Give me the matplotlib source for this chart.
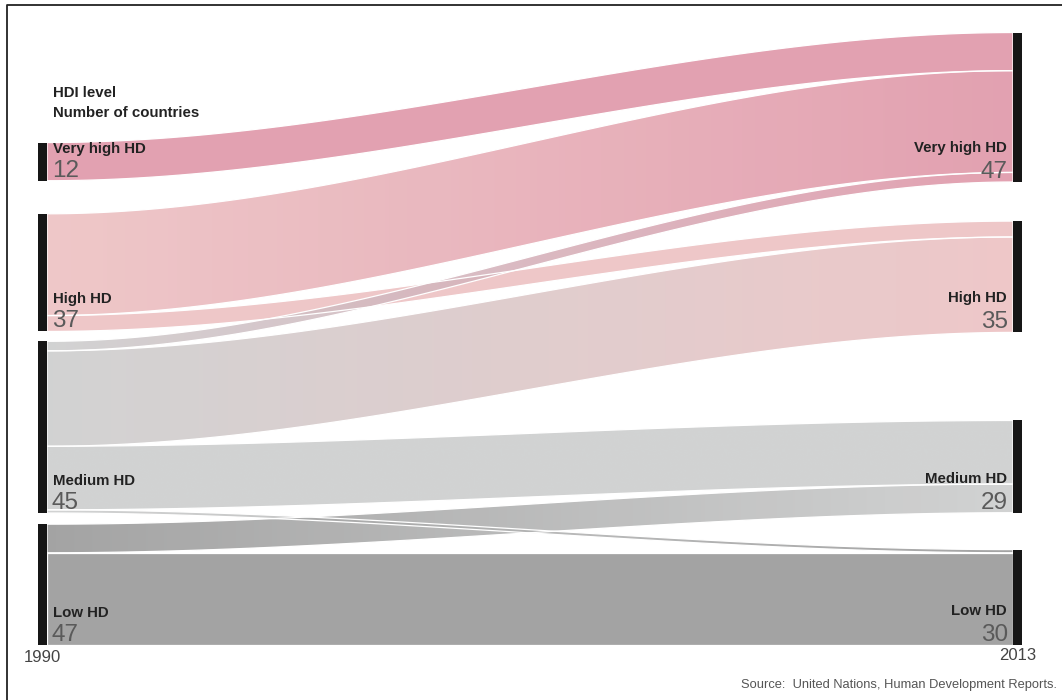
import numpy as np
import matplotlib
matplotlib.use("Agg")
import matplotlib.pyplot as plt
from matplotlib.patches import Polygon
from matplotlib.lines import Line2D
from matplotlib.colors import to_rgb

# ---------------- data ----------------
levels = ["Very high HD", "High HD", "Medium HD", "Low HD"]
counts_1990 = [12, 37, 45, 47]
counts_2013 = [47, 35, 29, 30]
year_labels = ["1990", "2013"]
flow_src = [0, 1, 1, 2, 2, 2, 2, 3, 3]
flow_dst = [0, 0, 1, 0, 1, 2, 3, 2, 3]
flow_val = [12, 32, 5, 3, 30, 20, 1, 9, 29]
title_lines = ["HDI level", "Number of countries"]
source_text = "Source:  United Nations, Human Development Reports."

# ---------------- style / layout ----------------
level_colors = ["#e3a1b1", "#efc8c9", "#d2d3d3", "#a4a4a4"]
gaps_left = [10.4, 3.1, 3.5]     # gaps between nodes (top to bottom), in country units
gaps_right = [12.3, 27.7, 11.6]
X0, X1 = 1990, 2013
PX_Y = 3.18           # pixels per country
PX_X = 966 / 23       # pixels per year
ALPHA = 0.88

FIG_W, FIG_H = 1062, 700
fig = plt.figure(figsize=(FIG_W / 100, FIG_H / 100), dpi=100)
ax = fig.add_axes([0, 0, 1, 1])
ax.axis("off")

regular = ["Liberation Sans", "DejaVu Sans"]

n = len(levels)
left_tot = [sum(v for s, v in zip(flow_src, flow_val) if s == i) for i in range(n)]
right_tot = [sum(v for d, v in zip(flow_dst, flow_val) if d == i) for i in range(n)]


def node_bottoms(tots, gaps):
    bottoms = [0.0] * n
    y = 0.0
    for i in range(n - 1, -1, -1):
        bottoms[i] = y
        y += tots[i]
        if i > 0:
            y += gaps[i - 1]
    return bottoms


lb = node_bottoms(left_tot, gaps_left)
rb = node_bottoms(right_tot, gaps_right)

# flow slot positions
left_cursor = [lb[i] + left_tot[i] for i in range(n)]   # tops
right_cursor = [rb[i] + right_tot[i] for i in range(n)]
order_left = sorted(range(len(flow_val)), key=lambda k: (flow_src[k], flow_dst[k]))
slots = {}
for k in order_left:
    s = flow_src[k]
    top = left_cursor[s]
    left_cursor[s] -= flow_val[k]
    slots[k] = [top, left_cursor[s]]
order_right = sorted(range(len(flow_val)), key=lambda k: (flow_dst[k], flow_src[k]))
for k in order_right:
    d = flow_dst[k]
    top = right_cursor[d]
    right_cursor[d] -= flow_val[k]
    slots[k] += [top, right_cursor[d]]


def vis(c):
    # base colour whose alpha-blend on white gives c
    r = np.array(to_rgb(c))
    return np.clip((r - (1 - ALPHA)) / ALPHA, 0, 1)


t = np.linspace(0, 1, 300)
sm = 3 * t ** 2 - 2 * t ** 3
xs = X0 + t * (X1 - X0)

for k in range(len(flow_val)):
    lt, lbot, rt, rbot = slots[k]
    top = lt + (rt - lt) * sm
    bot = lbot + (rbot - lbot) * sm
    verts = np.vstack([np.column_stack([xs, top]), np.column_stack([xs[::-1], bot[::-1]])])
    poly = Polygon(verts, closed=True, facecolor="none", edgecolor="none")
    ax.add_patch(poly)
    c0 = vis(level_colors[flow_src[k]])
    c1 = vis(level_colors[flow_dst[k]])
    grad = np.linspace(0, 1, 256)[:, None] * (c1 - c0) + c0
    img = np.concatenate([grad, np.full((256, 1), ALPHA)], axis=1)[None, :, :]
    im = ax.imshow(img, extent=[X0, X1, min(bot.min(), top.min()), max(top.max(), bot.max())],
                   aspect="auto", origin="lower", interpolation="bilinear", zorder=2 + k * 0.01)
    im.set_clip_path(poly)
    edge = Polygon(verts, closed=True, facecolor="none", edgecolor="white", lw=0.9,
                   zorder=2.5 + k * 0.01)
    ax.add_patch(edge)

# node bars
bw = 9 / PX_X
ax.bar([X0 - bw / 2] * n, left_tot, bottom=lb, width=bw, color="#161616", zorder=5)
ax.bar([X1 + bw / 2] * n, right_tot, bottom=rb, width=bw, color="#161616", zorder=5)

# labels
NUM_FS = 17.5
LAB_FS = 10.8
for i in range(n):
    ybase = lb[i] + 4 / PX_Y
    ax.text(X0 + 5 / PX_X, ybase, str(counts_1990[i]), family=regular, fontsize=NUM_FS,
            color="#5a5a5a", ha="left", va="baseline", zorder=6)
    ax.text(X0 + 6 / PX_X, ybase + 24 / PX_Y, levels[i], family=regular, fontsize=LAB_FS,
            fontweight="bold", color="#222222", ha="left", va="baseline", zorder=6)
    ybase = rb[i] + 4 / PX_Y
    ax.text(X1 - 5 / PX_X, ybase, str(counts_2013[i]), family=regular, fontsize=NUM_FS,
            color="#5a5a5a", ha="right", va="baseline", zorder=6)
    ax.text(X1 - 6 / PX_X, ybase + 26 / PX_Y, levels[i], family=regular, fontsize=LAB_FS,
            fontweight="bold", color="#222222", ha="right", va="baseline", zorder=6)

# title block
ax.text(X0 + 6 / PX_X, (645 - 97) / PX_Y, title_lines[0], family=regular, fontsize=LAB_FS,
        fontweight="bold", color="#222222", ha="left", va="baseline")
ax.text(X0 + 6 / PX_X, (645 - 117) / PX_Y, title_lines[1], family=regular, fontsize=LAB_FS,
        fontweight="bold", color="#222222", ha="left", va="baseline")

# years
ax.text(X0 - bw / 2, -13 / PX_Y, year_labels[0], family=regular, fontsize=12,
        color="#444444", ha="center", va="center")
ax.text(X1 + bw / 2, -10 / PX_Y, year_labels[1], family=regular, fontsize=12,
        color="#444444", ha="center", va="center")

# source
fig.text(1057 / FIG_W, 1 - 685 / FIG_H, source_text, family=regular, fontsize=9.3,
         color="#555555", ha="right", va="center")

# frame (left and top)
fig.add_artist(Line2D([7 / FIG_W, 7 / FIG_W, 1], [0, 1 - 5 / FIG_H, 1 - 5 / FIG_H],
                      transform=fig.transFigure, color="#222222", lw=1.3))

ax.set_xlim(X0 - 47 / PX_X, X0 + (FIG_W - 47) / PX_X)
ax.set_ylim(-55 / PX_Y, 645 / PX_Y)

fig.savefig("out.png", dpi=100)
